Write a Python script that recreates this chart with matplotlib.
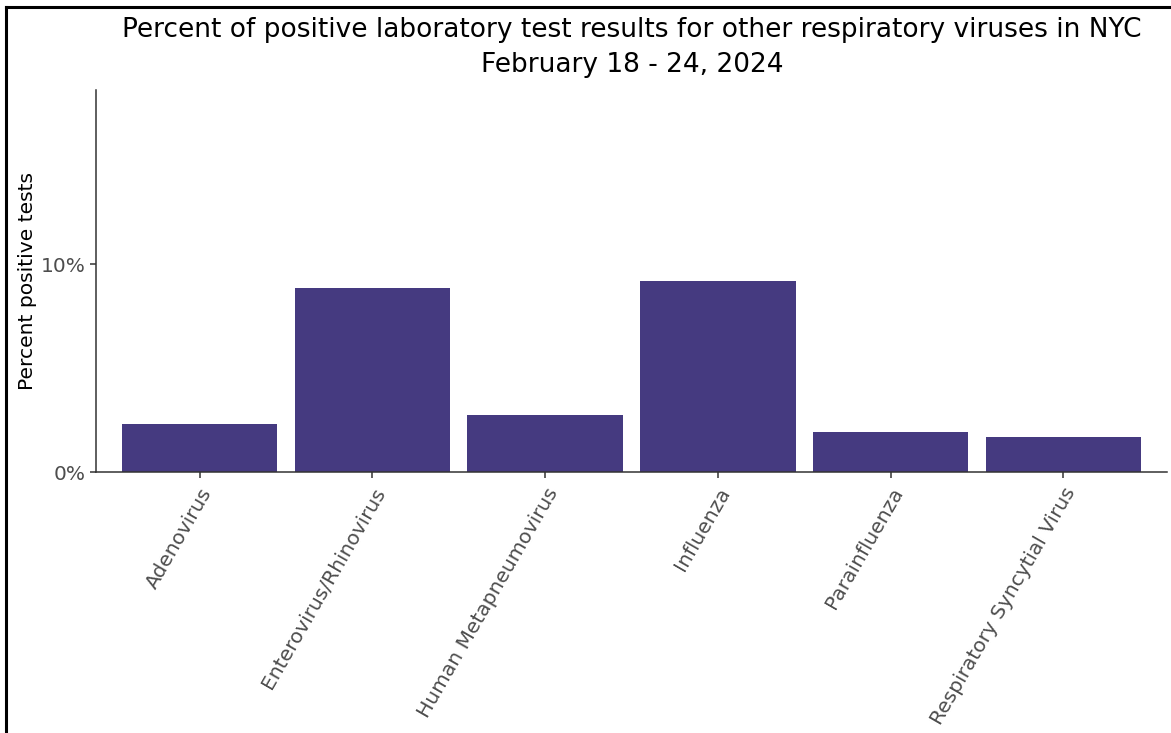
import matplotlib
matplotlib.use("Agg")
import matplotlib.pyplot as plt
from matplotlib.lines import Line2D
from matplotlib.ticker import FuncFormatter

viruses = [
    "Adenovirus",
    "Enterovirus/Rhinovirus",
    "Human Metapneumovirus",
    "Influenza",
    "Parainfluenza",
    "Respiratory Syncytial Virus",
]
pct_positive = [2.3, 8.85, 2.75, 9.2, 1.9, 1.7]

bar_color = "#453a80"
tick_grey = "#4d4d4d"

fig = plt.figure(figsize=(11.71, 7.33), dpi=100)
ax = fig.add_axes([96 / 1171, 1 - 472 / 733, (1167 - 96) / 1171, (472 - 90) / 733])

xs = range(len(viruses))
ax.bar(xs, pct_positive, width=0.9, color=bar_color)

ax.set_xlim(-0.6, len(viruses) - 0.4)
ax.set_ylim(0, 18.37)
ax.set_yticks([0, 10])
ax.yaxis.set_major_formatter(FuncFormatter(lambda v, p: f"{v:.0f}%"))
ax.set_xticks(list(xs))
ax.set_xticklabels(viruses, rotation=60, ha="right", va="top",
                   rotation_mode="anchor", fontsize=14.5, color=tick_grey)
for lab in ax.get_yticklabels():
    lab.set_fontsize(14.5)
    lab.set_color(tick_grey)

ax.tick_params(axis="both", length=4, width=1.1, color="#333333")
ax.tick_params(axis="x", pad=5)
ax.spines["top"].set_visible(False)
ax.spines["right"].set_visible(False)
for s in ("left", "bottom"):
    ax.spines[s].set_color("#333333")
    ax.spines[s].set_linewidth(1.1)

ax.set_ylabel("Percent positive tests", fontsize=14.6, labelpad=3)
fig.text(632 / 1171, 1 - 30 / 733,
         "Percent of positive laboratory test results for other respiratory viruses in NYC",
         ha="center", va="center", fontsize=19)
fig.text(632 / 1171, 1 - 65 / 733, "February 18 - 24, 2024",
         ha="center", va="center", fontsize=19)

# frame of the screenshot
fig.add_artist(Line2D([6 / 1171, 6 / 1171], [0, 1 - 7 / 733], color="black", lw=2.2))
fig.add_artist(Line2D([6 / 1171, 1], [1 - 7 / 733, 1 - 7 / 733], color="black", lw=2.2))

fig.savefig("out.png", dpi=100)
